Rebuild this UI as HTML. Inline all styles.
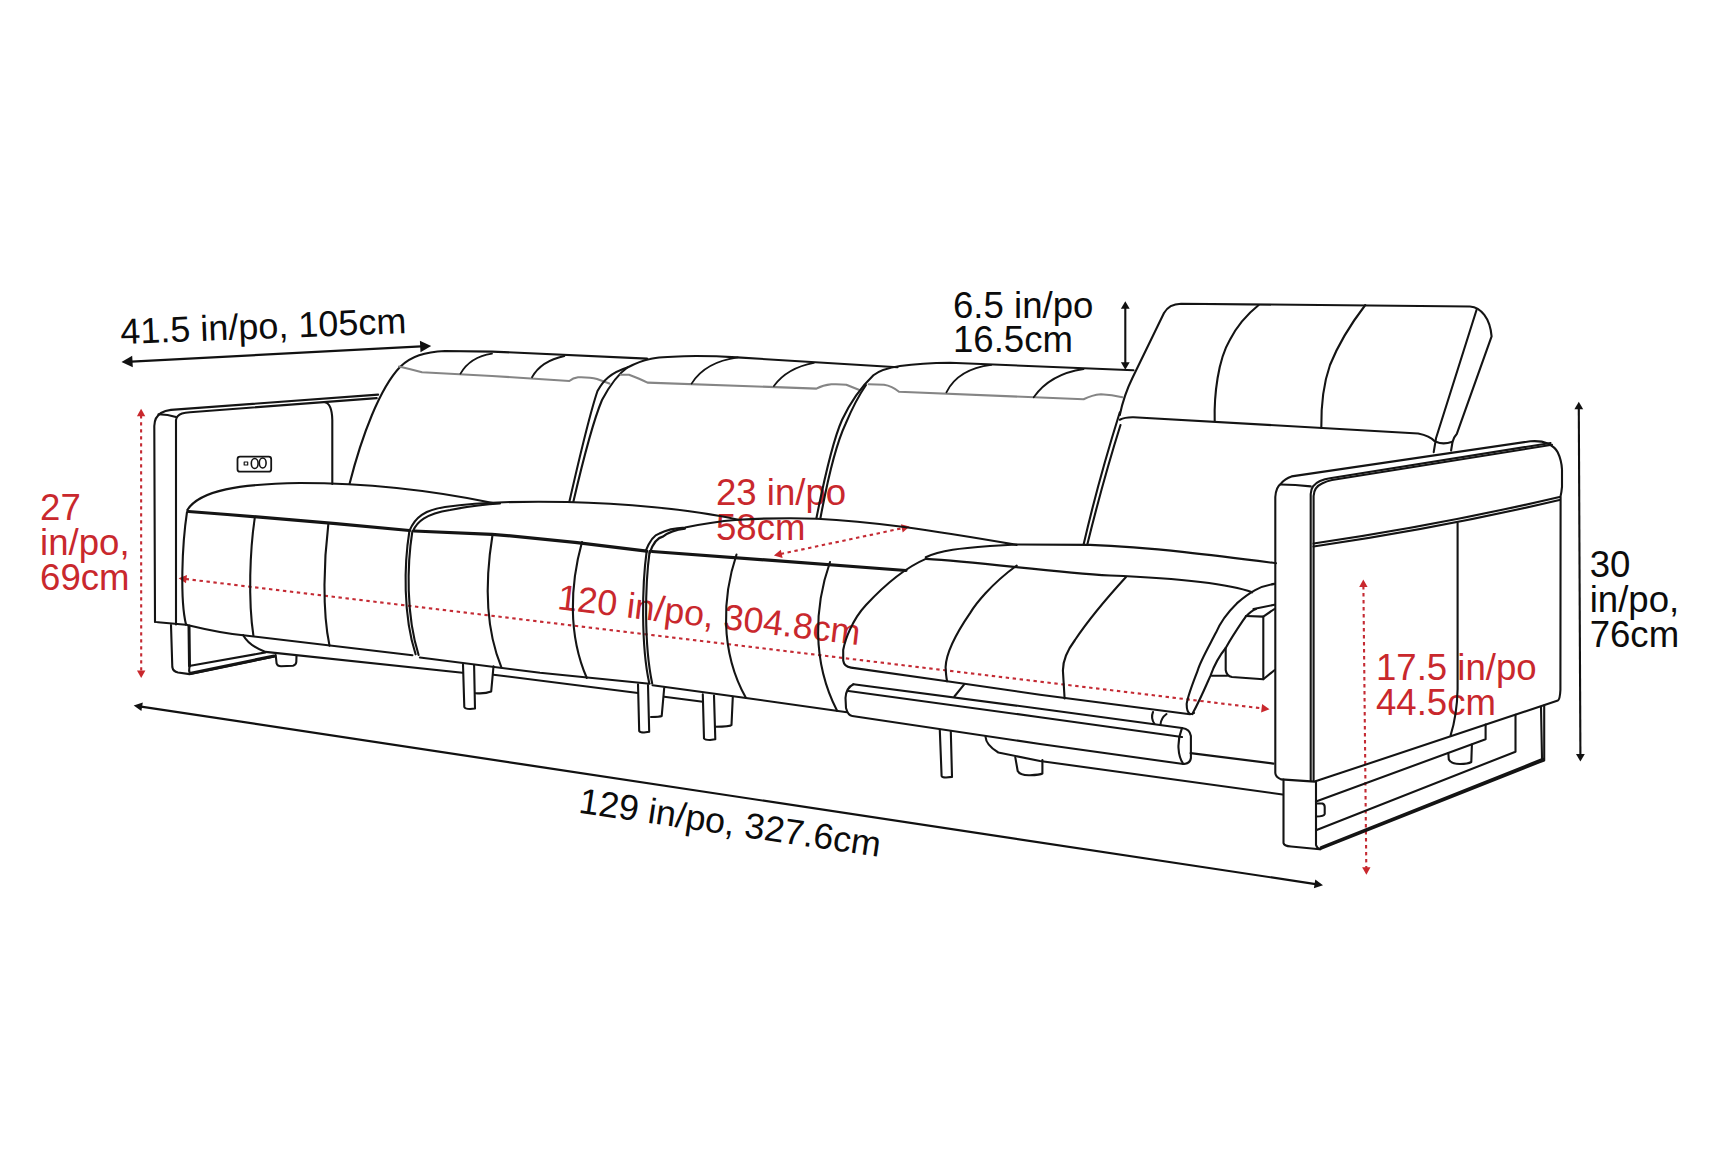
<!DOCTYPE html>
<html><head><meta charset="utf-8">
<style>
html,body{margin:0;padding:0;background:#fff;width:1726px;height:1150px;overflow:hidden}
svg{position:absolute;left:0;top:0}
.k{fill:none;stroke:#141414;stroke-width:2.1;stroke-linecap:round;stroke-linejoin:round}
.kt{fill:none;stroke:#141414;stroke-width:3.2;stroke-linecap:round;stroke-linejoin:round}
.g{fill:none;stroke:#858585;stroke-width:2.1;stroke-linecap:round;stroke-linejoin:round}
.r{fill:none;stroke:#c42a33;stroke-width:2.1;stroke-dasharray:3.4 3.6}
.a{fill:none;stroke:#111;stroke-width:2.3}
.af{fill:#111;stroke:none}
.rf{fill:#c9282d;stroke:none}
text{font-family:"Liberation Sans",sans-serif;font-size:36.6px}
.tb{fill:#0c0c0c}
.tr{fill:#c9282d}
</style></head>
<body>
<svg width="1726" height="1150" viewBox="0 0 1726 1150">
<!-- ===== TEXT ===== -->
<g class="tb">
<text transform="translate(120.7,344) rotate(-2.2)" style="font-size:36px">41.5 in/po, 105cm</text>
<text x="953" y="318.4">6.5 in/po</text>
<text x="953" y="352.1">16.5cm</text>
<text x="1589.7" y="577.3">30</text>
<text x="1589.7" y="612.0">in/po,</text>
<text x="1589.7" y="647.3">76cm</text>
<text transform="translate(577.8,812.5) rotate(8.4)" style="font-size:35.8px">129 in/po, 327.6cm</text>
</g>
<g class="tr">
<text x="40.1" y="520.3">27</text>
<text x="40.1" y="555.0">in/po,</text>
<text x="40.1" y="589.7">69cm</text>
<text x="716" y="505.0">23 in/po</text>
<text x="716" y="540.0">58cm</text>
<text x="1376" y="680.3">17.5 in/po</text>
<text x="1376" y="715.2">44.5cm</text>
<text transform="translate(556.5,609) rotate(6.8)" style="font-size:35.8px">120 in/po, 304.8cm</text>
</g>

<!-- ===== DIMENSION ARROWS ===== -->
<g>
<path class="a" d="M131.5,361.6 L421.2,346.4"/>
<polygon class="af" points="121.5,362.1 132.8,367.3 132.2,355.7"/>
<polygon class="af" points="431.2,345.9 419.9,340.7 420.5,352.3"/>
<path class="a" d="M1125.3,307.7 L1125.3,363.3" style="stroke-width:2.1"/>
<polygon class="af" points="1125.3,301.2 1120.9,308.7 1129.7,308.7"/>
<polygon class="af" points="1125.3,369.8 1129.7,362.3 1120.9,362.3"/>
<path class="a" d="M1578.8,408.3 L1580.4,755.1" style="stroke-width:2.1"/>
<polygon class="af" points="1578.8,401.8 1574.4,409.3 1583.2,409.3"/>
<polygon class="af" points="1580.4,761.6 1584.8,754.1 1576.0,754.1"/>
<path class="a" d="M141.1,706.6 L1315.6,884.1" style="stroke-width:2.2"/>
<polygon class="af" points="133.7,705.5 141.4,711.1 142.8,702.4"/>
<polygon class="af" points="1323.0,885.2 1315.3,879.6 1313.9,888.3"/>
</g>
<g>
<path class="r" d="M141.1,415.2 L141.2,671.5"/>
<polygon class="rf" points="141.1,408.7 136.9,416.2 145.3,416.2"/>
<polygon class="rf" points="141.2,678.0 145.4,670.5 137.0,670.5"/>
<path class="r" d="M780.7,554.0 L902.8,528.1"/>
<polygon class="rf" points="773.9,555.5 782.6,557.9 780.8,549.7"/>
<polygon class="rf" points="909.6,526.6 900.9,524.2 902.7,532.4"/>
<path class="r" d="M185.6,579.0 L1262.5,708.4"/>
<polygon class="rf" points="178.6,578.2 186.0,583.3 187.0,575.0"/>
<polygon class="rf" points="1269.5,709.2 1262.1,704.1 1261.1,712.4"/>
<path class="r" d="M1363.4,586.0 L1366.3,868.2"/>
<polygon class="rf" points="1363.3,579.5 1359.2,587.0 1367.6,587.0"/>
<polygon class="rf" points="1366.4,874.7 1370.5,867.2 1362.1,867.2"/>
</g>
<!-- ===== SOFA ===== -->
<g id="sofa">
<!-- left arm -->
<path class="k" d="M155,622 L154.3,426 Q154.5,417 161,413 Q165,410.5 171,409.9 L378.1,394.6"/>
<path class="k" d="M176,624.4 L176,420 Q176.5,415.5 182,413.5 Q185,412.6 190,412.2 L376.7,398.1"/>
<path class="k" d="M155,621.5 Q155.5,622.2 158,622.3 L185.8,624.8"/><path class="k" d="M158.5,414.3 Q168,414.3 176,417"/>
<path class="k" d="M325,402.3 Q332,404 332.3,420 L332.3,484"/>
<rect class="k" x="237.5" y="456.7" width="33.7" height="15" rx="2.5" style="stroke-width:1.8"/>
<rect class="k" x="244.2" y="462" width="3.5" height="3" style="stroke-width:1.2"/>
<ellipse class="k" cx="254.7" cy="463.5" rx="3.4" ry="5" style="stroke-width:1.6"/>
<ellipse class="k" cx="262.7" cy="463" rx="3.4" ry="5" style="stroke-width:1.6"/>
<!-- left sled -->
<path class="k" d="M171,625 L172.3,667 Q173,671.5 178,672.5 L189.5,674.1 L274.7,656.5"/>
<path class="k" d="M189,626 L189.5,666" style="stroke-width:3"/><path class="k" d="M190.4,665.8 L265.5,652.4"/><path class="k" d="M189.5,666 Q188.5,671 190,674"/>
<path class="kt" d="M191,673.2 L274,656" style="stroke-width:3"/>
<path class="k" d="M275.7,655 L276.6,663.5 Q277.5,666.3 281,666.3 L293,665.8 Q296,665 296.3,662 L296.5,656"/>
<!-- back cushion 1 -->
<path class="k" d="M349.5,484 C362,435 380,388 400,367 C411,356 425,352 445,351 L492,351.6 L647,358.6"/>
<path class="g" d="M399,366.5 Q410,369 422,372.3 L492,376 L569.3,381 Q573,378 578,377.3 Q590,377 597,379 L609.3,383.6"/>
<path class="k" d="M460.5,373.6 Q470,357 492,353.6" style="stroke-width:1.8"/>
<path class="k" d="M532,377.3 Q541,361 564.4,356" style="stroke-width:1.8"/>
<!-- back cushion 2 -->
<path class="k" d="M569.3,502 C580,455 590,413 597.5,391 C603,381 610,373 628,367.3 C638,362 645,360 650,359 C662,356 700,355 737,357.4 L897.5,367.3"/>
<path class="k" d="M573.3,502 C584,456 594,419 602,400 C610,385 618,374 628,367"/>
<path class="g" d="M620.6,374.8 L629,374.8 Q640,379 647.5,382.6 L816.4,388.6 Q823,385 831.3,384.3 Q840,384 846.3,384.8 L858.8,389.8"/>
<path class="k" d="M691.6,383.6 Q705,362 737.8,357.4" style="stroke-width:1.8"/>
<path class="k" d="M773.9,386 Q787,368 813.8,362.9" style="stroke-width:1.8"/>
<!-- back cushion 3 -->
<path class="k" d="M816.4,518.3 C826,470 834,438 842,420 C850,403 860,388 873.4,375.2 C880,370 890,367.5 900,366 C915,364 930,363 950,362.7 L1133.5,370.3"/>
<path class="k" d="M820.4,518.3 C829,472 837,442 845.5,424 C851,411 857,398 866,385"/>
<path class="g" d="M868.7,384.3 L884,384.8 Q892,386 899,391.8 L1083.6,399.3 Q1092,395 1101,394.3 Q1112,395 1122.3,397.3"/>
<path class="k" d="M946.4,392.3 Q958,369 991.3,364.9" style="stroke-width:1.8"/>
<path class="k" d="M1033.7,397.3 Q1050,374 1083.6,369" style="stroke-width:1.8"/>
<path class="k" d="M1083.6,544.5 C1095,495 1108,450 1119.8,412.3"/>
<path class="k" d="M1087.3,544.5 C1099,497 1112,452 1120.5,425"/>
<!-- headrest -->
<path class="k" d="M1119.8,415 Q1124,395 1132.4,378 L1164,313 Q1169,304 1181,303.7 L1470,306.5 C1481,307.5 1490,318 1491.6,336.3 L1456.9,433.7 Q1453,438 1452.5,442 L1451.1,450.5"/>
<path class="k" d="M1476.6,309.7 L1436,438.3 L1433.7,452.2"/>
<path class="k" d="M1436,441.8 Q1443,445 1452.3,441.8"/>
<path class="k" d="M1214.7,421 C1214,395 1218,360 1229.8,340 Q1240,320 1258.7,305"/>
<path class="k" d="M1365.3,305 C1350,325 1338,345 1330,365 C1323,385 1321,405 1321.3,427.9"/>
<path class="k" d="M1119.8,419.7 Q1125,417 1133.5,417.2 L1418.2,433.5 Q1430,436 1434.4,441"/>
<!-- seat 1 -->
<path class="k" d="M187.3,510 C200,490 240,484 300,483 C380,483 440,492 493,503"/>
<path class="kt" d="M188.6,511.5 Q300,520 409.4,530.5"/>
<path class="k" d="M187,512 C182,545 180,600 186,624.4"/>
<path class="k" d="M185.8,624.6 C200,628 220,633 243.2,635.2 L412.4,655.2"/>
<path class="k" d="M254.7,518.3 C250,550 248,600 253.4,635.6"/>
<path class="k" d="M328.3,524.5 C324,560 322,610 329.5,645.6"/>
<!-- plinth -->
<path class="k" d="M243.2,635.2 C247,642 255,648 265.5,651.9 L462.5,672.8"/><path class="k" d="M493.5,674.7 L638,693"/>
<!-- seat 2 -->
<path class="k" d="M409.4,531 C415,517 425,510 445,507 C480,502 520,501 567,502 C620,503 690,509 738.2,519.7"/>
<path class="k" d="M409.4,531 C404,565 403,615 415.6,654.3"/>
<path class="k" d="M412.4,531 C407,565 406,615 418.6,655"/>
<path class="kt" d="M414,531 L492,534.3 Q570,541 646.7,551.2"/>
<path class="k" d="M492.5,535 C486,575 484,625 501.4,667.3"/>
<path class="k" d="M582,542 C570,585 568,635 586.8,678"/>
<path class="k" d="M646.7,551 C642,585 641,645 649.2,683"/>
<path class="k" d="M649.7,551 C645,585 644,645 652.2,683.5"/>
<path class="k" d="M419.9,657.5 L540,672.8 L649.6,683.7"/>
<!-- legs under seat 2/3 -->
<path class="k" d="M463,664.5 L464.3,707 Q465,709 470,709 L475,708.5 L474.1,665"/>
<path class="k" d="M493.5,666.3 L491.2,691.5 Q485,694 475.5,693.2"/>
<path class="k" d="M638,684.3 L639.2,731 Q640,732.5 644,732.5 L649.2,731.7 L648,685"/>
<path class="k" d="M664.2,688 L661.7,716 Q660,717 651,717"/>
<path class="k" d="M664.2,696.8 L702.8,701.8"/>
<path class="k" d="M702.8,694.3 L704,738.5 Q705,740 710,740 L715.3,739.2 L714,695.5"/>
<path class="k" d="M732.8,696.8 L731.5,725 Q730,726.7 715.3,726.7"/>
<!-- seat 3 -->
<path class="k" d="M645.6,551.2 C650,540 654,535 659.4,533.5 C668,529 676,528 685,527.6 C705,523 722,521 738.2,519.7 C770,518 800,518 817,518.7 C870,521 930,530 1016.7,544.9"/><path class="k" d="M649.6,553.2 C653,543 658,537.5 663.3,536.4 C670,531 677,529.5 685,528.6"/><path class="k" d="M413,531 C417,522 425,514 450,510 C470,506 490,504 500,503.5"/>
<path class="kt" d="M652,551.5 L906,570.5"/>
<path class="k" d="M736.5,554.5 C723,595 719,650 746,698"/>
<path class="k" d="M830,562 C815,605 811,660 837.1,710.8"/>
<path class="k" d="M652.6,685.2 L746,698 L846.9,712.3"/>
<!-- recliner seat top -->
<path class="k" d="M925.8,557.3 C940,550 962,548.2 990,546 L1016.7,544.5 L1090,544.9 C1150,547 1220,556 1276,563.2"/>
<!-- footrest -->
<path class="k" d="M925.8,558.9 C980,562 1050,572 1110,575.5 C1170,578 1225,582 1252.1,592.3"/>
<path class="k" d="M925.8,558.9 C900,570 880,590 866,605 C852,620 845,640 843.2,650 L843.2,660.5 Q844,666.5 851,667.6 L947.1,681.3 L1040,694.7 L1188.1,714 Q1192,714.5 1194,713"/>
<path class="k" d="M1016.7,565.5 C990,585 975,605 970.4,612.6 C955,635 946,655 945.6,667.1 Q946,676 947.1,681.3"/>
<path class="k" d="M1126,577 C1105,600 1085,625 1075,640 C1066,652 1062.9,662 1062.9,670.4 L1064.6,698.5"/>
<!-- side arc -->
<path class="k" d="M1274.4,583.9 C1260,586 1250,592 1236.8,603.4 C1228,612 1220,623 1216,632.6 C1208,648 1200,662 1197.8,670.2 C1192,685 1188,695 1186.7,703.7 Q1186.5,712 1190,714"/>
<path class="k" d="M1192.3,714.1 C1200,700 1205,688 1210.4,675.8 C1215,663 1220,655 1225.7,648 C1233,635 1240,625 1245.2,617.3 C1250,612 1253,610 1256,609"/>
<!-- mechanism block -->
<path class="k" d="M1245.9,616 L1263.3,616.6 L1274.4,609"/>
<path class="k" d="M1253.5,609 L1274.4,604.8"/>
<path class="k" d="M1225.7,648 L1225.7,670 Q1226.5,676 1232,677 L1263.3,679.3 L1274.4,670.2"/>
<path class="k" d="M1263.3,616.6 L1263.3,679.3"/>
<path class="k" d="M1211.8,675.8 L1227.1,675.8"/>
<!-- footrest bar -->
<path class="k" d="M853.4,684.3 L1040,708.7 L1182,728"/>
<path class="k" d="M848.5,691 L1040,717.2 L1182,737"/>
<path class="k" d="M853.4,684.3 Q846,688 845.5,698 L846,708 Q848,715.5 852.2,716 L1040,744 L1183.4,764"/>
<path class="k" d="M1182,728 Q1190,729 1190.9,736 L1190.9,758 Q1190,764 1183.4,764"/>
<path class="k" d="M1182,728 Q1178,738 1178.5,748 Q1179,758 1183.4,764"/>
<path class="k" d="M954.4,696.5 L964.2,684.3"/>
<path class="k" d="M1153,712 Q1150.5,718 1154.5,724 M1166.5,714 Q1161,718 1160.5,724.5"/>
<!-- leg C + mechanism foot -->
<path class="k" d="M939.8,730 L941.6,776 Q942,777.5 946,777.5 L952,776.9 L950.8,731.2"/>
<path class="k" d="M985.5,736.7 Q986,745 998.3,752.5 L1040,761 L1282.5,794.5"/>
<path class="k" d="M1015.3,757.4 L1017.7,771 Q1020,775.5 1030,775.2 Q1040,775 1042.4,773.5 L1042.4,760"/>
<path class="k" d="M1190.6,753.1 L1273.5,763.6"/>
<!-- right arm -->
<path class="k" d="M1275.3,773 L1275.3,497 Q1276,487 1281,483.6 Q1285,478.5 1291.6,476.4 L1530.3,441.3 Q1541,440.5 1547.6,443.5 Q1555,447 1557.7,452.2 Q1561.5,460 1562,469.5 L1562,486.8 Q1561.5,492 1560.6,496 L1560.4,690 Q1560,699 1557.9,700.5 L1314.7,781.6 L1281,779.4 Q1275.5,777 1275.3,773"/>
<path class="k" d="M1280.6,484.5 Q1295,484.5 1310.7,486.4"/>
<path class="k" d="M1310.7,781 L1310.7,494 Q1311,485 1320,481 Q1325,479 1330,478.3 L1550.5,443"/>
<path class="k" d="M1313.6,781 L1313.6,496 Q1314,487 1322,483.5 Q1327,481 1332,480 L1552,444.8"/>
<path class="k" d="M1313.6,543.5 Q1440,525 1559.5,497"/>
<path class="k" d="M1313.6,546.5 Q1440,528 1559.5,500"/>
<path class="k" d="M1457.6,523 L1457.6,689.3 Q1457,715 1450.6,735.4"/>
<!-- right sled -->
<path class="k" d="M1283.5,779.6 L1283.5,843 Q1284,846 1291,846.5 L1319.7,849.2 L1544.2,760.4 L1544.2,705.5"/>
<path class="kt" d="M1321,847.5 L1543,759" style="stroke-width:2.6"/>
<path class="k" d="M1316,781.6 L1316,845 Q1317,848.5 1320.3,849.2"/>
<path class="k" d="M1316,830.2 L1515.5,751.7 L1515.5,714.8"/>
<path class="k" d="M1316,801.5 L1485.6,739.2 L1485.6,724.6"/>
<path class="k" d="M1316,803.5 L1322.5,803.5 Q1324.7,804.5 1324.7,807 L1324.7,814 Q1324,816.5 1316,816.5"/>
<path class="k" d="M1448.3,753 L1448.8,759.5 Q1451,764 1460,764 Q1468,764 1471.3,762 L1471.9,744.5"/><path class="k" d="M1541,707 L1542,758.5"/>
<!--MORE-->
</g>
</svg>
</body></html>
